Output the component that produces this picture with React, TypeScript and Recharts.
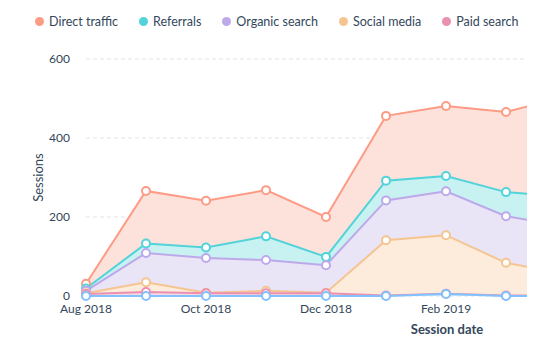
import { AreaChart, Area, XAxis, YAxis, CartesianGrid } from "recharts";

const months = ["Aug 2018", "Sep 2018", "Oct 2018", "Nov 2018", "Dec 2018", "Jan 2019", "Feb 2019", "Mar 2019", "Apr 2019"];
const xTicks = ["Aug 2018", "Oct 2018", "Dec 2018", "Feb 2019"];

const directTraffic = [12, 133, 118, 117, 101, 164, 177, 203, 253];
const referrals = [6, 24, 27, 60, 21, 50, 39, 61, 76];
const organicSearch = [6, 74, 88, 78, 70, 101, 111, 118, 121];
const socialMedia = [2, 25, 1, 6, 1, 140, 148, 83, 54];
const paidSearch = [5, 10, 7, 7, 7, 1, 1, 1, 1];
const emailMarketing = [0, 0, 0, 0, 0, 0, 5, 0, 0];

const yTicks = [0, 200, 400, 600];

const data = months.map((m, i) => ({
  month: m,
  direct: directTraffic[i],
  referrals: referrals[i],
  organic: organicSearch[i],
  social: socialMedia[i],
  paid: paidSearch[i],
  email: emailMarketing[i],
}));

// top of the stack first (reverseStackOrder), so lower series paint last
const series = [
  { key: "direct", name: "Direct traffic", line: "#fd9b85", fill: "#fde2dc", legend: true },
  { key: "referrals", name: "Referrals", line: "#51d3d9", fill: "#c8f1f2", legend: true },
  { key: "organic", name: "Organic search", line: "#bda9ea", fill: "#e9e4f6", legend: true },
  { key: "social", name: "Social media", line: "#f5c591", fill: "#fdecdc", legend: true },
  { key: "paid", name: "Paid search", line: "#ea90b1", fill: "#f8d8e4", legend: true },
  { key: "email", name: "Email marketing", line: "#81c1fd", fill: "#d6ebff", legend: false },
];

const legendItems = series.filter((s) => s.legend);

const textColor = "#33475b";
const font = "Lato, 'Open Sans', sans-serif";

export default function App() {
  return (
    <div style={{ position: "relative", width: 527, height: 352, overflow: "hidden", fontFamily: font }}>
      <div
        style={{
          position: "absolute",
          top: 6,
          left: 27,
          display: "flex",
          gap: 21,
          fontSize: 12.5,
          color: textColor,
          whiteSpace: "nowrap",
          zIndex: 2,
        }}
      >
        {legendItems.map((s) => (
          <div key={s.key} style={{ display: "flex", alignItems: "center", gap: 5 }}>
            <span style={{ width: 9, height: 9, borderRadius: "50%", background: s.line, display: "inline-block" }} />
            <span>{s.name}</span>
          </div>
        ))}
      </div>

      <AreaChart
        width={580}
        height={352}
        data={data}
        reverseStackOrder
        margin={{ top: 51, right: 22, bottom: 24, left: 0 }}
      >
        <CartesianGrid vertical={false} stroke="#dfe3eb" strokeDasharray="4 3" />
        <XAxis
          dataKey="month"
          ticks={xTicks}
          interval={0}
          axisLine={false}
          tickLine={false}
          tickSize={0}
          tickMargin={8}
          height={40}
          tick={{ fill: textColor, fontSize: 12, fontFamily: font }}
          label={{
            content: (props: any) => (
              <text
                x={props.viewBox.x + 361}
                y={props.viewBox.y + 38}
                textAnchor="middle"
                fill={textColor}
                fontSize={13}
                fontWeight={700}
                fontFamily={font}
              >
                Session date
              </text>
            ),
          }}
        />
        <YAxis
          domain={[0, 600]}
          ticks={yTicks}
          width={78}
          axisLine={false}
          tickLine={false}
          tickSize={0}
          tickMargin={16}
          tick={{ fill: textColor, fontSize: 12, fontFamily: font }}
          label={{
            content: (props: any) => (
              <text
                x={30}
                y={props.viewBox.y + props.viewBox.height / 2}
                textAnchor="middle"
                dominantBaseline="central"
                transform={`rotate(-90, 30, ${props.viewBox.y + props.viewBox.height / 2})`}
                fill={textColor}
                fontSize={13}
                fontFamily={font}
              >
                Sessions
              </text>
            ),
          }}
        />
        {series.map((s) => (
          <Area
            key={s.key}
            type="linear"
            dataKey={s.key}
            name={s.name}
            stackId="1"
            stroke={s.line}
            strokeWidth={2}
            fill={s.fill}
            fillOpacity={1}
            dot={{ r: 4, fill: "#fff", stroke: s.line, strokeWidth: 2 }}
            activeDot={false}
            isAnimationActive={false}
          />
        ))}
      </AreaChart>
    </div>
  );
}
